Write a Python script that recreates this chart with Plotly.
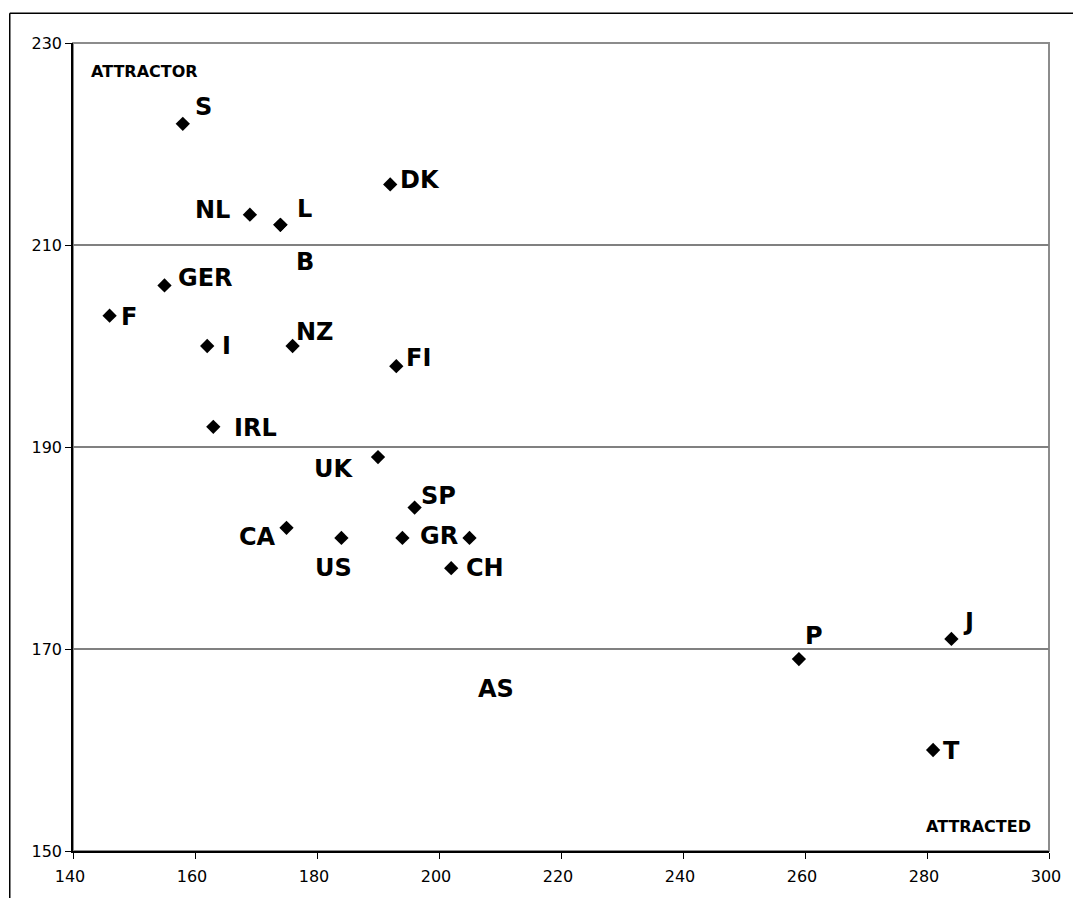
import plotly.graph_objects as go

# ---- data ----
countries = ["S", "NL", "L", "B", "DK", "GER", "F", "I", "NZ", "FI", "IRL", "UK",
             "SP", "CA", "US", "GR", "AS", "CH", "P", "J", "T"]
x_vals = [158, 169, 174, 174, 192, 155, 146, 162, 176, 193, 163, 190,
          196, 175, 184, 194, 205, 202, 259, 284, 281]
y_vals = [222, 213, 212, 212, 216, 206, 203, 200, 200, 198, 192, 189,
          184, 182, 181, 181, 181, 178, 169, 171, 160]
x_ticks = [140, 160, 180, 200, 220, 240, 260, 280, 300]
y_ticks = [150, 170, 190, 210, 230]
corner_labels = ["ATTRACTOR", "ATTRACTED"]

# ---- label placement (pixel offsets from marker: dx right, dy down) ----
label_offsets = {
    "S": (21, -17), "NL": (-37, -5), "L": (24, -16), "B": (25, 37),
    "DK": (30, -4), "GER": (41, -7), "F": (19, 1), "I": (19, 0),
    "NZ": (22, -14), "FI": (22, -8), "IRL": (42, 1), "UK": (-45, 12),
    "SP": (24, -12), "CA": (-29, 9), "US": (-8, 30), "GR": (37, -2),
    "AS": (26, 151), "CH": (34, 0), "P": (15, -23), "J": (17, -17),
    "T": (18, 1),
}

FONT = "DejaVu Sans"

fig = go.Figure()
fig.add_trace(go.Scatter(
    x=x_vals, y=y_vals, mode="markers",
    marker=dict(symbol="diamond", size=11, color="black"),
    hoverinfo="text", text=countries, showlegend=False,
))

annotations = []
for name, xv, yv in zip(countries, x_vals, y_vals):
    dx, dy = label_offsets[name]
    annotations.append(dict(
        x=xv, y=yv, xref="x", yref="y", text="<b>%s</b>" % name,
        showarrow=False, xshift=dx, yshift=-dy,
        font=dict(family=FONT, size=24, color="black"),
    ))

annotations.append(dict(
    x=0.0162, y=0.9644, xref="paper", yref="paper", text="<b>%s</b>" % corner_labels[0],
    showarrow=False, xanchor="left", yanchor="middle",
    font=dict(family=FONT, size=16, color="black"),
))
annotations.append(dict(
    x=0.9838, y=0.0307, xref="paper", yref="paper", text="<b>%s</b>" % corner_labels[1],
    showarrow=False, xanchor="right", yanchor="middle",
    font=dict(family=FONT, size=16, color="black"),
))

shapes = [
    # plot area frame (grey)
    dict(type="rect", xref="paper", yref="paper", x0=0, y0=0, x1=1, y1=1,
         line=dict(color="#8c8c8c", width=2), layer="below"),
    # outer chart border (top and left visible)
    dict(type="line", xref="paper", yref="paper", x0=-0.0648, y0=1.0368, x1=1.05, y1=1.0368,
         line=dict(color="black", width=1.5)),
    dict(type="line", xref="paper", yref="paper", x0=-0.0648, y0=1.0368, x1=-0.0648, y1=-0.1,
         line=dict(color="black", width=1.5)),
]

fig.update_layout(
    width=1065, height=890,
    margin=dict(l=65, r=13, t=35, b=40),
    paper_bgcolor="white", plot_bgcolor="white",
    annotations=annotations, shapes=shapes,
    font=dict(family=FONT, size=16, color="black"),
    xaxis=dict(range=[140, 300], tickvals=x_ticks, showgrid=False, zeroline=False,
               showline=True, linecolor="black", linewidth=1.5,
               ticks="outside", ticklen=6, tickcolor="black", tickwidth=1,
               ticklabelstandoff=4, ticklabelshift=-3,
               tickfont=dict(family=FONT, size=16, color="black")),
    yaxis=dict(range=[150, 230], tickvals=y_ticks, showgrid=True, gridcolor="#808080",
               gridwidth=1.5, zeroline=False,
               showline=True, linecolor="black", linewidth=1.5,
               ticks="outside", ticklen=6, tickcolor="black", tickwidth=1,
               tickfont=dict(family=FONT, size=16, color="black")),
)

fig.write_html("out.html", config={"displayModeBar": False})
